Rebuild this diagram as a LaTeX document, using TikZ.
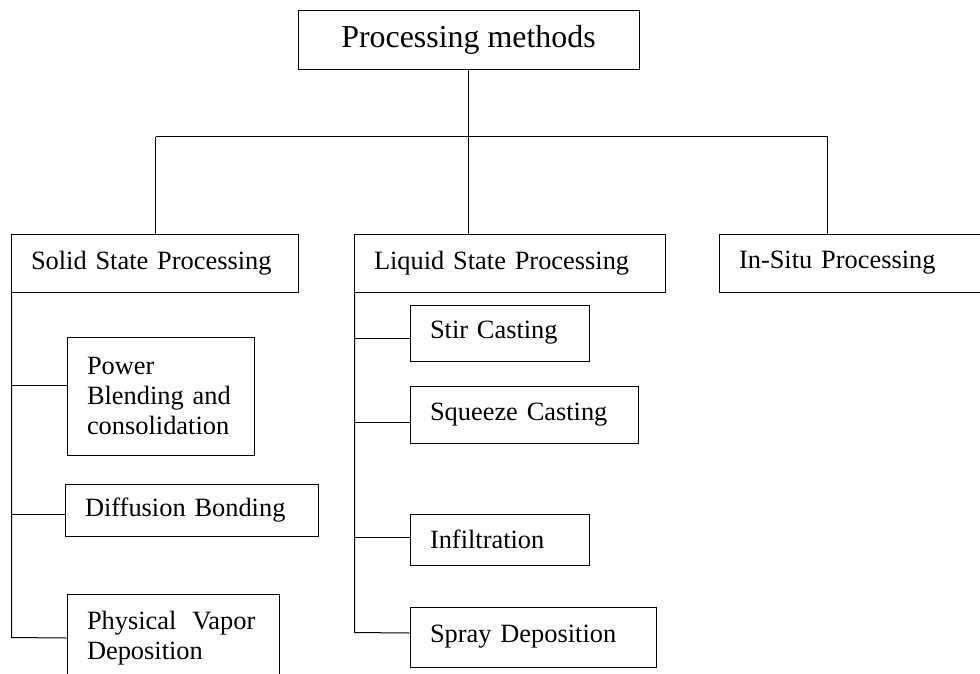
\documentclass[tikz,border=0pt]{standalone}
\usepackage{fontspec}
\setmainfont{Liberation Serif}

\begin{document}
\begin{tikzpicture}[x=1pt,y=-1pt]
    \tikzset{box/.style = {draw, line width=1pt, anchor=north west, inner xsep=20pt, inner ysep=0pt, align=left, font=\fontsize{26.4}{30}\selectfont}}
    \tikzset{link/.style = {draw, line width=1pt}}
    \useasboundingbox (0,0) rectangle (980,673);

    % boxes
    \node[box, align=center, inner xsep=0pt, minimum width=341pt, minimum height=59pt, font=\fontsize{31.9}{36}\selectfont] (top) at (297.5,9.5) {Processing methods};
    \node[box, text width=247pt, minimum height=58pt] (solid) at (10.5,233.5) {Solid State Processing};
    \node[box, text width=271pt, minimum height=58pt] (liquid) at (353.5,233.5) {Liquid State Processing};
    \node[box, text width=227pt, minimum height=58pt] (insitu) at (718.5,233.5) {In-Situ Processing};

    \node[box, text width=147pt, minimum height=118pt] (power) at (66.5,336.5) {Power\\Blending and\\consolidation};
    \node[box, text width=213pt, minimum height=52pt] (diffusion) at (64.5,483.5) {Diffusion Bonding};
    \node[box, text width=172pt, minimum height=88pt] (vapor) at (66.5,593.5) {\mbox{Physical\hspace{0.6em}Vapor}\\Deposition};

    \node[box, text width=139pt, minimum height=56pt] (stir) at (409.5,304.5) {Stir Casting};
    \node[box, text width=188pt, minimum height=57pt] (squeeze) at (409.5,385.5) {Squeeze Casting};
    \node[box, text width=139pt, minimum height=51pt] (infil) at (409.5,513.5) {Infiltration};
    \node[box, text width=206pt, minimum height=60pt] (spray) at (409.5,606.5) {Spray Deposition};

    % tree lines
    \coordinate (hl) at (155.5,136.5);
    \coordinate (hr) at (827.5,136.5);
    \coordinate (sbus) at (11.5,637.5);
    \coordinate (lbus) at (354.5,632.5);

    \draw[link] (top.south) -- (top.south |- hl);
    \draw[link] (hl) -- (hr);
    \draw[link] (hl) -- (hl |- solid.north);
    \draw[link] (top.south |- hl) -- (top.south |- liquid.north);
    \draw[link] (hr) -- (hr |- insitu.north);

    \draw[link] (sbus |- solid.south) -- (sbus) -- (vapor.west);
    \draw[link] ([yshift=11pt]power.west) -| (sbus);
    \draw[link] ([yshift=-4pt]diffusion.west) -| (sbus);

    \draw[link] (lbus |- liquid.south) -- (lbus) -- ([yshift=4pt]spray.west);
    \draw[link] ([yshift=-5pt]stir.west) -| (lbus);
    \draw[link] ([yshift=-7.5pt]squeeze.west) -| (lbus);
    \draw[link] ([yshift=2.5pt]infil.west) -| (lbus);
\end{tikzpicture}
\end{document}
